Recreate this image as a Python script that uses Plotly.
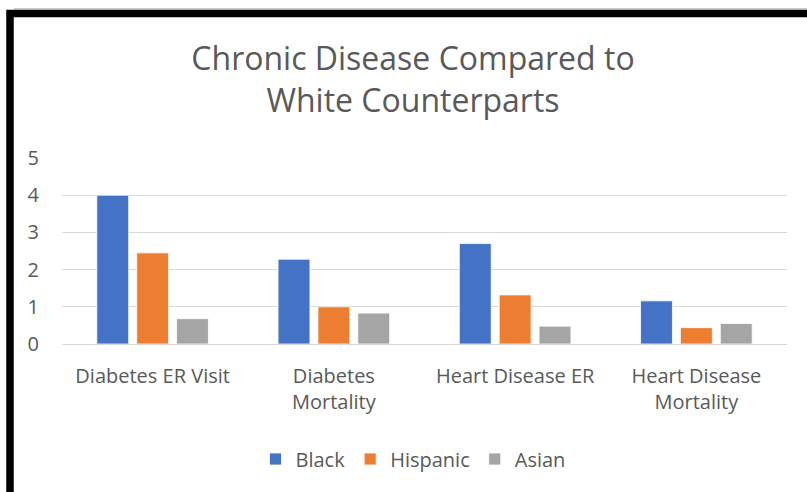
import plotly.graph_objects as go

categories = ["Diabetes ER Visit", "Diabetes<br>Mortality", "Heart Disease ER", "Heart Disease<br>Mortality"]
black = [4.0, 2.28, 2.7, 1.16]
hispanic = [2.45, 1.0, 1.32, 0.44]
asian = [0.68, 0.83, 0.48, 0.55]
series_names = ["Black", "Hispanic", "Asian"]
colors = ["#4472C4", "#ED7D31", "#A5A5A5"]

W, H = 807, 492
L, R, T, B = 62, 20, 158, 148
pw, ph = W - L - R, H - T - B

def px(x):
    return (x - L) / pw

def py(y):
    return (H - B - y) / ph

FONT = "Open Sans"
TXT = "#595959"
FS = 20

fig = go.Figure()
for name, vals, c in zip(series_names, [black, hispanic, asian], colors):
    fig.add_trace(go.Bar(x=categories, y=vals, name=name, marker_color=c,
                         marker_line_color="white", marker_line_width=0.8))

fig.update_layout(
    width=W, height=H,
    margin=dict(l=L, r=R, t=T, b=B),
    paper_bgcolor="white", plot_bgcolor="white",
    barmode="group", bargap=0.34, bargroupgap=0.2,
    title=dict(text="Chronic Disease Compared to<br>White Counterparts",
               x=413 / W, xanchor="center", xref="container",
               y=1 - 70 / H, yanchor="middle", yref="container",
               font=dict(family=FONT, size=32, color=TXT)),
    font=dict(family=FONT, color=TXT, size=FS),
    showlegend=True,
    legend=dict(orientation="h", x=px(413), xanchor="center", y=py(459), yanchor="middle",
                font=dict(family=FONT, size=FS, color=TXT), traceorder="normal",
                itemwidth=30),
    xaxis=dict(showgrid=False, showline=False, ticks="", ticklabelstandoff=18,
               tickfont=dict(size=FS, color=TXT)),
    yaxis=dict(range=[0, 5], dtick=1, showgrid=True, gridcolor="#D9D9D9", gridwidth=1,
               zeroline=True, zerolinecolor="#D9D9D9", zerolinewidth=1,
               showline=False, ticks="", ticklabelstandoff=22,
               tickfont=dict(size=FS, color=TXT)),
)

# Black frame around the chart (top and left edges, as in the reference)
fig.add_shape(type="path", xref="paper", yref="paper",
              path=f"M {px(10)},{py(H + 5)} L {px(10)},{py(13.5)} L {px(W + 5)},{py(13.5)}",
              line=dict(color="black", width=7.5))
fig.add_shape(type="line", xref="paper", yref="paper",
              x0=px(14), x1=px(W), y0=py(9), y1=py(9),
              line=dict(color="#999999", width=1))

fig.write_html("out.html")
